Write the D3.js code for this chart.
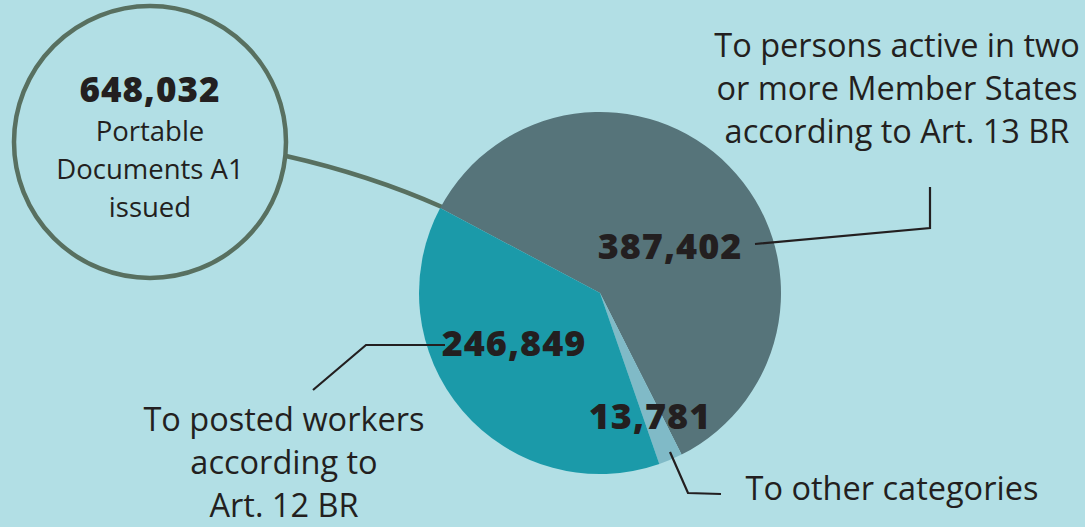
<!DOCTYPE html>
<html>
<head>
<meta charset="utf-8">
<script src="https://cdn.jsdelivr.net/npm/d3@7"></script>
<style>
  body { margin: 0; background: #b2dfe5; }
  text { font-family: "Open Sans", Lato, sans-serif; fill: #231f20; }
  .num { font-weight: 800; letter-spacing: 1px; }
</style>
</head>
<body>
<script>
const w = 1085;
const h = 527;

// data
const categories = ["To persons active in two or more Member States according to Art. 13 BR",
                    "To other categories",
                    "To posted workers according to Art. 12 BR"];
const values = [387402, 13781, 246849];
const total = 648032;
const totalLabel = ["Portable", "Documents A1", "issued"];
const colors = ["#56747a", "#80bac7", "#1b9aa9"];

const cx = 600, cy = 293, r = 181;
const fmt = d3.format(",");

const svg = d3.select("body").append("svg")
    .attr("width", w)
    .attr("height", h);

svg.append("rect").attr("width", w).attr("height", h).attr("fill", "#b2dfe5");

// connector from total circle to pie
svg.append("path")
    .attr("d", "M286,156 Q370,175 442,207")
    .attr("fill", "none")
    .attr("stroke", "#587060")
    .attr("stroke-width", 4.5);

// total circle
svg.append("circle")
    .attr("cx", 150).attr("cy", 142).attr("r", 136)
    .attr("fill", "none")
    .attr("stroke", "#587060")
    .attr("stroke-width", 4.5);

svg.append("text")
    .attr("class", "num")
    .attr("x", 150).attr("y", 102)
    .attr("text-anchor", "middle")
    .attr("font-size", 35)
    .text(fmt(total));

svg.append("text")
    .attr("text-anchor", "middle")
    .attr("font-size", 27.5)
    .selectAll("tspan")
    .data(totalLabel)
    .enter().append("tspan")
    .attr("x", 150)
    .attr("y", (d, i) => 141 + i * 38)
    .text(d => d);

// pie
const startA = -62 * Math.PI / 180;
const pie = d3.pie().sort(null)
    .startAngle(startA)
    .endAngle(startA + 2 * Math.PI);
const arcs = pie(values);
const arc = d3.arc().innerRadius(0).outerRadius(r);

svg.append("g")
    .attr("transform", "translate(" + cx + "," + cy + ")")
    .selectAll("path")
    .data(arcs)
    .enter().append("path")
    .attr("d", arc)
    .attr("fill", (d, i) => colors[i]);

// leader lines
const leaders = [
    [[755, 244], [930, 228], [930, 187]],
    [[670, 452], [688, 493], [721, 494]],
    [[445, 345], [366, 345], [313, 390]]
];
svg.selectAll(".leader")
    .data(leaders)
    .enter().append("polyline")
    .attr("class", "leader")
    .attr("points", d => d.map(p => p.join(",")).join(" "))
    .attr("fill", "none")
    .attr("stroke", "#231f20")
    .attr("stroke-width", 2.2);

// value labels
const valuePos = [[670, 259], [650, 429], [514, 356]];
svg.selectAll(".num.val")
    .data(values)
    .enter().append("text")
    .attr("class", "num val")
    .attr("x", (d, i) => valuePos[i][0])
    .attr("y", (d, i) => valuePos[i][1])
    .attr("text-anchor", "middle")
    .attr("font-size", 36)
    .text(d => fmt(d));

// category labels
const catLines = [
    ["To persons active in two", "or more Member States", "according to Art. 13 BR"],
    ["To other categories"],
    ["To posted workers", "according to", "Art. 12 BR"]
];
const catPos = [[897, 57], [892, 500], [284, 431]];
catLines.forEach(function(lines, i) {
    svg.append("text")
        .attr("text-anchor", "middle")
        .attr("font-size", 32.5)
        .selectAll("tspan")
        .data(lines)
        .enter().append("tspan")
        .attr("x", catPos[i][0])
        .attr("y", (d, j) => catPos[i][1] + j * 43)
        .text(d => d);
});
</script>
</body>
</html>
